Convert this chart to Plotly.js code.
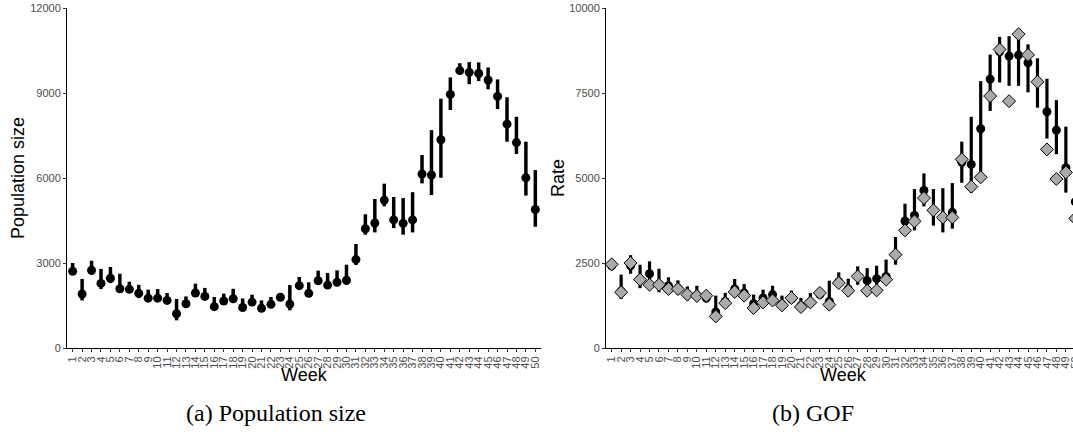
<!DOCTYPE html>
<html>
<head>
<meta charset="utf-8">
<script src="https://cdn.plot.ly/plotly-3.0.1.min.js"></script>
<style>
html,body{margin:0;padding:0;overflow:hidden;background:#fff;}
#chart{width:1090px;height:439px;}
</style>
</head>
<body>
<div id="chart"></div>
<script>
const weeks = [1,2,3,4,5,6,7,8,9,10,11,12,13,14,15,16,17,18,19,20,21,22,23,24,25,26,27,28,29,30,31,32,33,34,35,36,37,38,39,40,41,42,43,44,45,46,47,48,49,50];

// (a) Population size
const popEst  = [2705,1905,2740,2280,2460,2090,2070,1930,1760,1760,1680,1210,1560,1940,1820,1460,1660,1740,1430,1620,1400,1540,1790,1550,2200,1930,2375,2220,2320,2390,3120,4210,4410,5220,4520,4400,4520,6140,6105,7350,8950,9790,9730,9690,9460,8880,7900,7250,6010,4890];
const popLow  = [2590,1680,2590,2080,2290,1940,1940,1760,1650,1650,1560,976,1450,1800,1700,1350,1540,1620,1330,1505,1290,1420,1680,1330,2080,1800,2230,2080,2180,2230,2930,4000,4080,5000,4230,4000,4080,5810,5400,6010,8400,9670,9310,9420,9130,8430,7280,6850,5380,4280];
const popHigh = [3000,2435,3080,2790,2860,2620,2340,2230,2060,2080,1940,1730,1820,2270,2120,1800,1920,2090,1750,1880,1680,1800,1940,2220,2505,2320,2730,2650,2740,2940,3670,4720,5260,5800,5330,5290,5500,6810,7690,8800,9550,10050,10090,10080,9900,9480,8850,8160,7280,6280];

// (b) GOF
const rateEst  = [2420,1670,2420,2030,2185,1880,1830,1760,1590,1550,1470,1060,1370,1735,1620,1300,1470,1570,1290,1440,1245,1350,1570,1370,1950,1735,2105,1980,2040,2105,2745,3735,3900,4635,4050,3840,3990,5460,5400,6450,7910,8710,8585,8615,8390,7830,6950,6410,5300,4300];
const rateLow  = [2380,1440,2185,1760,1830,1640,1640,1570,1400,1400,1340,950,1225,1570,1440,1195,1340,1420,1175,1320,1125,1225,1450,1175,1765,1520,1860,1810,1860,1890,2450,3330,3460,4165,3600,3400,3510,4860,4570,5040,6970,7810,7710,7710,7520,7070,6160,5700,4570,3600];
const rateHigh = [2460,2160,2730,2450,2550,2330,2080,1990,1810,1830,1670,1540,1620,2030,1880,1570,1715,1830,1540,1690,1470,1620,1765,1980,2225,2040,2400,2350,2420,2600,3265,4245,4675,5135,4675,4700,4850,6070,6800,7850,8630,9150,9170,9150,8930,8520,7920,7290,6510,5600];
const gofVal   = [2460,1640,2500,2010,1860,1860,1735,1735,1570,1530,1540,930,1320,1650,1540,1175,1340,1400,1255,1470,1205,1340,1620,1275,1910,1685,2105,1685,1695,2010,2745,3460,3725,4410,4050,3840,3840,5550,4745,5020,7410,8780,7260,9230,8620,7830,5840,4970,5165,3810];

const popTicks  = [0,3000,6000,9000,12000];
const rateTicks = [0,2500,5000,7500,10000];

const W = 1090, H = 439;
const plus  = (hi, v) => hi.map((h,i) => h - v[i]);
const minus = (lo, v) => lo.map((l,i) => v[i] - l);

const traces = [
  {
    x: weeks, y: popEst, type: 'scatter', mode: 'markers', xaxis: 'x', yaxis: 'y',
    marker: {symbol: 'circle', size: 9, color: '#000'},
    error_y: {type: 'data', symmetric: false, array: plus(popHigh, popEst), arrayminus: minus(popLow, popEst),
              thickness: 3.5, width: 0, color: '#000'},
    cliponaxis: false
  },
  {
    x: weeks, y: rateEst, type: 'scatter', mode: 'markers', xaxis: 'x2', yaxis: 'y2',
    marker: {symbol: 'circle', size: 9, color: '#000'},
    error_y: {type: 'data', symmetric: false, array: plus(rateHigh, rateEst), arrayminus: minus(rateLow, rateEst),
              thickness: 3.2, width: 0, color: '#000'},
    cliponaxis: false
  },
  {
    x: weeks, y: gofVal, type: 'scatter', mode: 'markers', xaxis: 'x2', yaxis: 'y2',
    marker: {symbol: 'diamond', size: 10, color: '#aaaaaa', line: {color: '#000', width: 1}},
    cliponaxis: false
  }
];

const tickFont = {family: 'Liberation Sans, Arial, sans-serif', size: 11, color: '#4d4d4d'};
const xBase = {
  range: [0.4, 50.6], tickmode: 'array', tickvals: weeks, ticktext: weeks.map(String),
  tickangle: -90, ticks: 'outside', ticklen: 3, tickwidth: 1, tickcolor: '#333',
  showline: true, linecolor: '#000', linewidth: 1, showgrid: false, zeroline: false,
  tickfont: tickFont, fixedrange: true, automargin: false
};
const yBase = {
  ticks: 'outside', ticklen: 3, tickwidth: 1, tickcolor: '#333', tickmode: 'array',
  showline: true, linecolor: '#000', linewidth: 1, showgrid: false, zeroline: false,
  tickfont: tickFont, fixedrange: true, automargin: false,
  domain: [(H-348)/H, (H-8)/H]
};

const titleFont = {family: 'Liberation Sans, Arial, sans-serif', size: 18, color: '#000'};
const capFont = {family: 'Liberation Serif, Times New Roman, serif', size: 24, color: '#000'};

const layout = {
  width: W, height: H,
  margin: {l: 0, r: 0, t: 0, b: 0},
  paper_bgcolor: '#fff', plot_bgcolor: '#fff',
  showlegend: false,
  xaxis:  Object.assign({}, xBase, {domain: [67/W, 541/W], anchor: 'y'}),
  yaxis:  Object.assign({}, yBase, {range: [0, 12000], tickvals: popTicks, ticktext: popTicks.map(String), anchor: 'x'}),
  xaxis2: Object.assign({}, xBase, {domain: [606/W, 1081/W], anchor: 'y2'}),
  yaxis2: Object.assign({}, yBase, {range: [0, 10000], tickvals: rateTicks, ticktext: rateTicks.map(String), anchor: 'x2'}),
  annotations: [
    {text: 'Week', xref: 'paper', yref: 'paper', x: 304/W, y: (H-375)/H, xanchor: 'center', yanchor: 'middle', showarrow: false, font: titleFont},
    {text: 'Week', xref: 'paper', yref: 'paper', x: 843/W, y: (H-375)/H, xanchor: 'center', yanchor: 'middle', showarrow: false, font: titleFont},
    {text: 'Population size', xref: 'paper', yref: 'paper', x: 18/W, y: (H-178)/H, xanchor: 'center', yanchor: 'middle', textangle: -90, showarrow: false, font: titleFont},
    {text: 'Rate', xref: 'paper', yref: 'paper', x: 558/W, y: (H-178)/H, xanchor: 'center', yanchor: 'middle', textangle: -90, showarrow: false, font: titleFont},
    {text: '(a) Population size', xref: 'paper', yref: 'paper', x: 276/W, y: (H-413)/H, xanchor: 'center', yanchor: 'middle', showarrow: false, font: capFont},
    {text: '(b) GOF', xref: 'paper', yref: 'paper', x: 813/W, y: (H-413)/H, xanchor: 'center', yanchor: 'middle', showarrow: false, font: capFont}
  ]
};

Plotly.newPlot('chart', traces, layout, {staticPlot: true, displayModeBar: false});
</script>
</body>
</html>
